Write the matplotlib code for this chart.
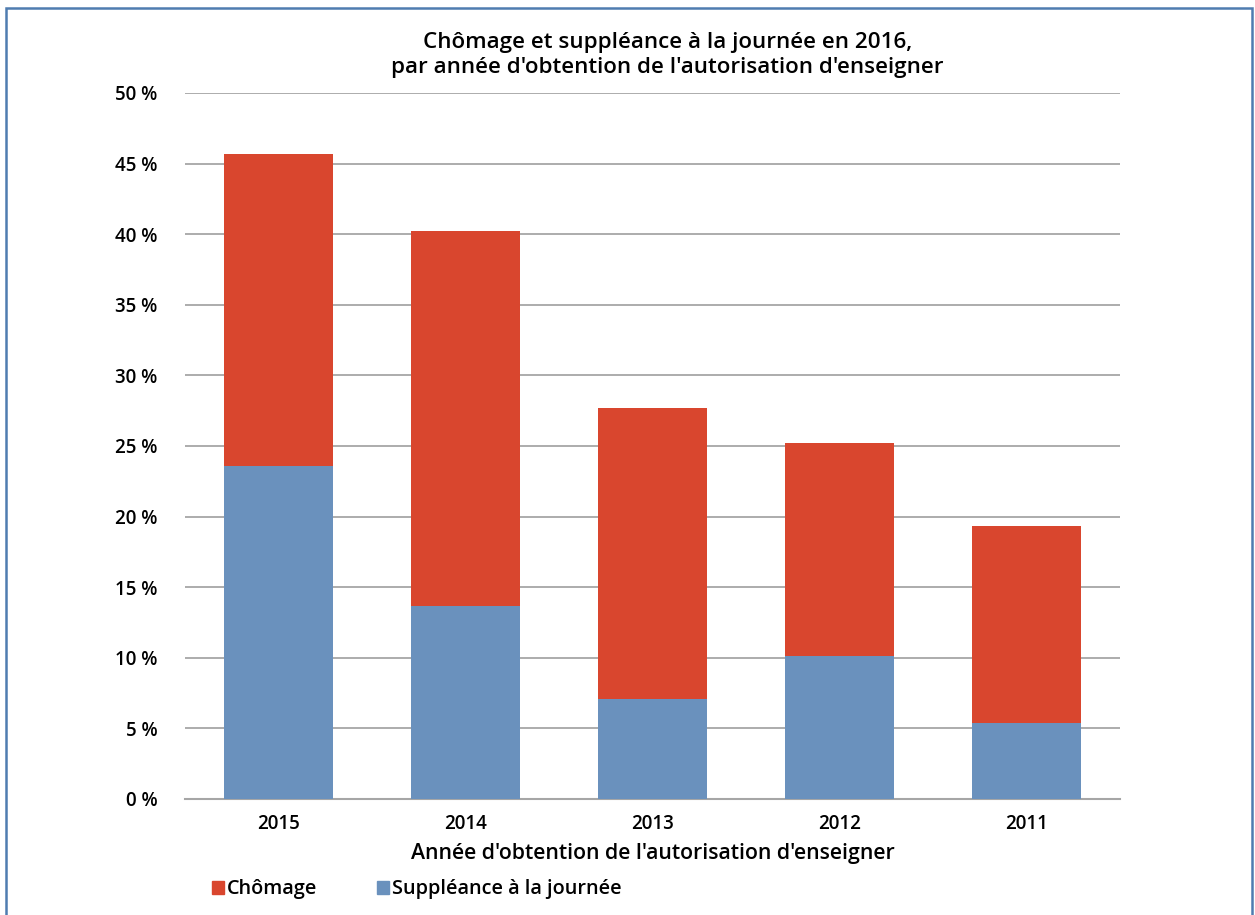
import matplotlib.pyplot as plt
from matplotlib.patches import Rectangle, Patch

# données (%)
annees = ['2015', '2014', '2013', '2012', '2011']
suppleance = [23.6, 13.7, 7.1, 10.1, 5.4]
chomage = [22.1, 26.5, 20.6, 15.1, 13.9]
yticks = [0, 5, 10, 15, 20, 25, 30, 35, 40, 45, 50]

ROUGE = '#D9462E'
BLEU = '#6A91BD'

plt.rcParams['font.family'] = ['Open Sans', 'DejaVu Sans']

fig = plt.figure(figsize=(12.55, 9.15), dpi=100)
ax = fig.add_axes([0.1474, 0.1268, 0.745, 0.7716])

x = range(len(annees))
ax.bar(x, suppleance, width=0.58, color=BLEU, zorder=3)
ax.bar(x, chomage, width=0.58, bottom=suppleance, color=ROUGE, zorder=3)

ax.set_xlim(-0.5, len(annees) - 0.5)
ax.set_ylim(0, 50)
ax.set_yticks(yticks)
ax.set_yticklabels([f'{v} %' for v in yticks], fontsize=13.5, fontweight='semibold')
ax.set_xticks(list(x))
ax.set_xticklabels(annees, fontsize=13.5, fontweight='semibold')
ax.tick_params(axis='both', length=0)
ax.tick_params(axis='y', pad=20)
ax.tick_params(axis='x', pad=11)
ax.grid(axis='y', color='#A6A6A6', linewidth=1.3, zorder=0)
for s in ['left', 'right', 'top']:
    ax.spines[s].set_visible(False)
ax.spines['bottom'].set_color('#A6A6A6')
ax.spines['bottom'].set_linewidth(1.5)

ax.set_xlabel("Année d'obtention de l'autorisation d'enseigner", fontsize=15.3,
              fontweight='semibold', labelpad=6)
fig.text(0.532, 0.940,
         "Chômage et suppléance à la journée en 2016,\n"
         "par année d'obtention de l'autorisation d'enseigner",
         ha='center', va='center', fontsize=16.1, fontweight='semibold',
         linespacing=1.3)

handles = [Patch(color=ROUGE, label='Chômage'),
           Patch(color=BLEU, label='Suppléance à la journée')]
fig.legend(handles=handles, loc='center left', bbox_to_anchor=(0.1546, 0.028),
           ncol=2, frameon=False, handlelength=0.6, handleheight=0.6,
           handletextpad=0.15, columnspacing=3.0,
           prop={'weight': 'semibold', 'size': 14.3})

# cadre bleu autour de la figure
fig.patches.append(Rectangle((6 / 1255, -0.05), 1246 / 1255, 1.05 - 8 / 915,
                             transform=fig.transFigure, fill=False,
                             edgecolor='#4F7CB0', linewidth=1.8))

fig.savefig('out.png', dpi=100)
